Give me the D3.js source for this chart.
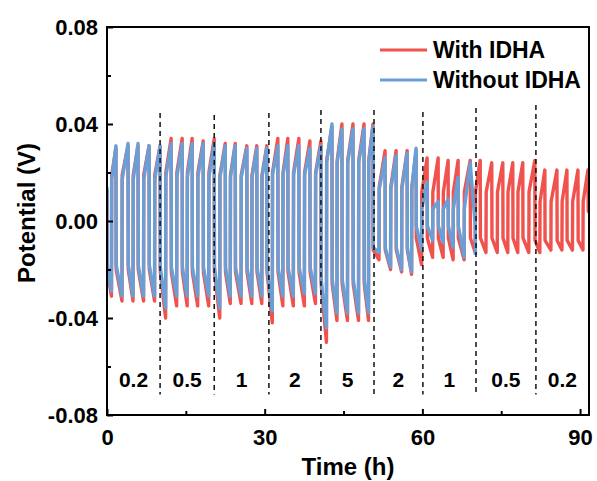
<!DOCTYPE html>
<html>
<head>
<meta charset="utf-8">
<script src="https://cdn.jsdelivr.net/npm/d3@7"></script>
<style>
    html, body { margin: 0; padding: 0; background: #fff; }
    svg text { font-family: "Liberation Sans", Arial, sans-serif; font-weight: bold; fill: #000; }
</style>
</head>
<body>
<svg id="chart" width="597" height="481"></svg>
<script>
// peak time (h) at the end of every charge half-cycle
const peakTimes = [
    1.7, 4.0, 5.9, 8.0, 10.1,
    12.2, 14.3, 16.2, 18.3, 20.4,
    22.5, 24.4, 26.6, 28.5, 30.4,
    32.5, 34.4, 36.5, 38.6, 40.7,
    42.8, 44.7, 46.8, 48.9, 50.6,
    52.9, 55.0, 57.1, 58.8,
    60.9, 63.0, 64.9, 66.8, 69.1,
    71.0, 73.2, 75.3, 77.2, 79.1, 81.4,
    83.3, 85.6, 87.5, 89.6, 91.5
];
const cyclesPerStep = [5, 5, 5, 5, 5, 4, 5, 6, 5];

const redTops = [
    0.030, 0.031, 0.031, 0.031, 0.031,
    0.034, 0.034, 0.034, 0.033, 0.034,
    0.032, 0.032, 0.031, 0.031, 0.031,
    0.034, 0.034, 0.034, 0.033, 0.033,
    0.039, 0.040, 0.040, 0.040, 0.040,
    0.029, 0.029, 0.029, 0.029,
    0.026, 0.026, 0.025, 0.025, 0.025,
    0.025, 0.024, 0.024, 0.024, 0.024, 0.025,
    0.021, 0.021, 0.021, 0.021, 0.021
];
const redBottoms = [
    -0.031, -0.033, -0.033, -0.033, -0.033,
    -0.040, -0.035, -0.035, -0.035, -0.035,
    -0.040, -0.034, -0.034, -0.034, -0.034,
    -0.042, -0.035, -0.035, -0.035, -0.034,
    -0.050, -0.041, -0.041, -0.041, -0.041,
    -0.016, -0.020, -0.021, -0.022,
    -0.018, -0.015, -0.015, -0.016, -0.016,
    -0.013, -0.013, -0.013, -0.013, -0.013, -0.013,
    -0.013, -0.012, -0.012, -0.012, -0.012
];
const redUpJump = [0.019, 0.020, 0.019, 0.020, 0.025, 0.014, 0.012, 0.012, 0.008];
const redDownJump = [-0.020, -0.021, -0.021, -0.021, -0.026, -0.012, -0.007, -0.007, -0.008];
const redStart = [0, 0.013];
const redEnd = [91.6, 0.004];

const blueTops = [
    0.031, 0.032, 0.032, 0.031, 0.031,
    0.032, 0.032, 0.032, 0.032, 0.032,
    0.031, 0.031, 0.030, 0.030, 0.030,
    0.031, 0.031, 0.031, 0.030, 0.031,
    0.040, 0.038, 0.038, 0.038, 0.039,
    0.026, 0.027, 0.028, 0.030,
    0.016, 0.008, 0.009, 0.018, 0.024
];
const blueBottoms = [
    -0.029, -0.031, -0.031, -0.031, -0.031,
    -0.036, -0.031, -0.031, -0.031, -0.031,
    -0.036, -0.031, -0.031, -0.031, -0.031,
    -0.037, -0.031, -0.031, -0.030, -0.030,
    -0.044, -0.038, -0.038, -0.038, -0.038,
    -0.013, -0.019, -0.020, -0.021,
    -0.012, -0.008, -0.009, -0.011, -0.015
];
const blueUpJump = [0.017, 0.018, 0.018, 0.019, 0.024, 0.013, 0.005];
const blueDownJump = [-0.018, -0.019, -0.019, -0.019, -0.024, -0.011, -0.002];
const blueStart = [0, 0.014];
const blueEnd = [70.1, -0.014];

// current density steps and the dashed dividers between them
const stepLabels = ['0.2', '0.5', '1', '2', '5', '2', '1', '0.5', '0.2'];
const dividerTimes = [10.1, 20.4, 30.8, 40.7, 50.8, 60.1, 70.2, 81.6];
const dividerTops = [0.0445, 0.0437, 0.0445, 0.0458, 0.0458, 0.045, 0.0466, 0.0478];
const dividerBottom = -0.0715;

const xTicks = [0, 30, 60, 90];
const xMinorTicks = [15, 45, 75];
const yTicks = [-0.08, -0.04, 0, 0.04, 0.08];
const yTickLabels = ['-0.08', '-0.04', '0.00', '0.04', '0.08'];
const yMinorTicks = [-0.06, -0.02, 0.02, 0.06];

const series = [
    { name: 'With IDHA', color: '#f0524e', tops: redTops, bottoms: redBottoms,
      up: redUpJump, down: redDownJump, start: redStart, end: redEnd },
    { name: 'Without IDHA', color: '#6a9fd6', tops: blueTops, bottoms: blueBottoms,
      up: blueUpJump, down: blueDownJump, start: blueStart, end: blueEnd }
];

const margin = { top: 27, right: 8, bottom: 66, left: 107 };
const width = 597 - margin.left - margin.right;
const height = 481 - margin.top - margin.bottom;

const xScale = d3.scaleLinear().domain([0, 91.7]).range([0, width]);
const yScale = d3.scaleLinear().domain([-0.08, 0.08]).range([height, 0]);

const svg = d3.select('#chart');
const chart = svg.append('g')
    .attr('transform', `translate(${margin.left}, ${margin.top})`);

chart.append('clipPath').attr('id', 'plotClip')
    .append('rect').attr('width', width).attr('height', height);

// build the square-wave voltage profile of one series from its cycle values
function buildPoints(s) {
    const pts = [s.start];
    let k = 0;
    cyclesPerStep.forEach((n, step) => {
        for (let i = 0; i < n && k < s.tops.length; i++, k++) {
            const prev = k === 0 ? s.start[0] : peakTimes[k - 1];
            const mid = (prev + peakTimes[k]) / 2;
            pts.push([prev + 0.04, s.down[step]]);
            pts.push([mid, s.bottoms[k]]);
            pts.push([mid + 0.04, s.up[step]]);
            pts.push([peakTimes[k], s.tops[k]]);
        }
    });
    pts.push([s.end[0] - 0.04, s.tops.length < peakTimes.length ? s.down[6] : s.end[1]]);
    pts.push(s.end);
    return pts;
}

const line = d3.line()
    .x(d => xScale(d[0]))
    .y(d => yScale(d[1]));

const plot = chart.append('g').attr('clip-path', 'url(#plotClip)');
series.forEach(s => {
    plot.append('path')
        .datum(buildPoints(s))
        .attr('fill', 'none')
        .attr('stroke', s.color)
        .attr('stroke-width', 3.4)
        .attr('stroke-linejoin', 'round')
        .attr('d', line);
});

// dashed dividers
chart.selectAll('.divider')
    .data(dividerTimes)
    .enter().append('line')
        .attr('class', 'divider')
        .attr('x1', d => xScale(d))
        .attr('x2', d => xScale(d))
        .attr('y1', (d, i) => yScale(dividerTops[i]))
        .attr('y2', yScale(dividerBottom))
        .attr('stroke', '#111')
        .attr('stroke-width', 1.5)
        .attr('stroke-dasharray', '5,4');

// step labels, centred between dividers
const bounds = [0].concat(dividerTimes, [xScale.domain()[1]]);
chart.selectAll('.step')
    .data(stepLabels)
    .enter().append('text')
        .attr('class', 'step')
        .attr('x', (d, i) => xScale((bounds[i] + bounds[i + 1]) / 2))
        .attr('y', yScale(-0.0685))
        .attr('text-anchor', 'middle')
        .attr('font-size', 21)
        .text(d => d);

// axes with inward ticks
const xAxis = d3.axisBottom(xScale).tickValues(xTicks).tickSizeInner(-6).tickSizeOuter(0).tickPadding(14);
const xMinor = d3.axisBottom(xScale).tickValues(xMinorTicks).tickSizeInner(-4).tickSizeOuter(0).tickFormat('');
const yAxis = d3.axisLeft(yScale).tickValues(yTicks).tickSizeInner(-6).tickSizeOuter(0).tickPadding(9)
    .tickFormat((d, i) => yTickLabels[i]);
const yMinor = d3.axisLeft(yScale).tickValues(yMinorTicks).tickSizeInner(-4).tickSizeOuter(0).tickFormat('');

function styleAxis(g) {
    g.select('.domain').remove();
    g.selectAll('line').attr('stroke', '#000').attr('stroke-width', 2);
    g.selectAll('text').attr('font-size', 22).attr('fill', '#000');
}

chart.append('g').attr('transform', `translate(0, ${height})`).call(xAxis).call(styleAxis);
chart.append('g').attr('transform', `translate(0, ${height})`).call(xMinor).call(styleAxis);
chart.append('g').call(yAxis).call(styleAxis);
chart.append('g').call(yMinor).call(styleAxis);

chart.append('rect')
    .attr('width', width)
    .attr('height', height)
    .attr('fill', 'none')
    .attr('stroke', '#000')
    .attr('stroke-width', 2);

// axis titles
chart.append('text')
    .attr('x', width / 2)
    .attr('y', height + 60)
    .attr('text-anchor', 'middle')
    .attr('font-size', 24)
    .text('Time (h)');

chart.append('text')
    .attr('transform', `translate(${-72}, ${height / 2 - 8}) rotate(-90)`)
    .attr('text-anchor', 'middle')
    .attr('font-size', 24)
    .text('Potential (V)');

// legend
const legend = chart.append('g').attr('transform', `translate(${273}, ${23})`);
series.forEach((s, i) => {
    const row = legend.append('g').attr('transform', `translate(0, ${i * 30})`);
    row.append('line')
        .attr('x1', 0).attr('x2', 47)
        .attr('stroke', s.color)
        .attr('stroke-width', 3);
    row.append('text')
        .attr('x', 53)
        .attr('y', 8)
        .attr('font-size', 23)
        .text(s.name);
});
</script>
</body>
</html>
